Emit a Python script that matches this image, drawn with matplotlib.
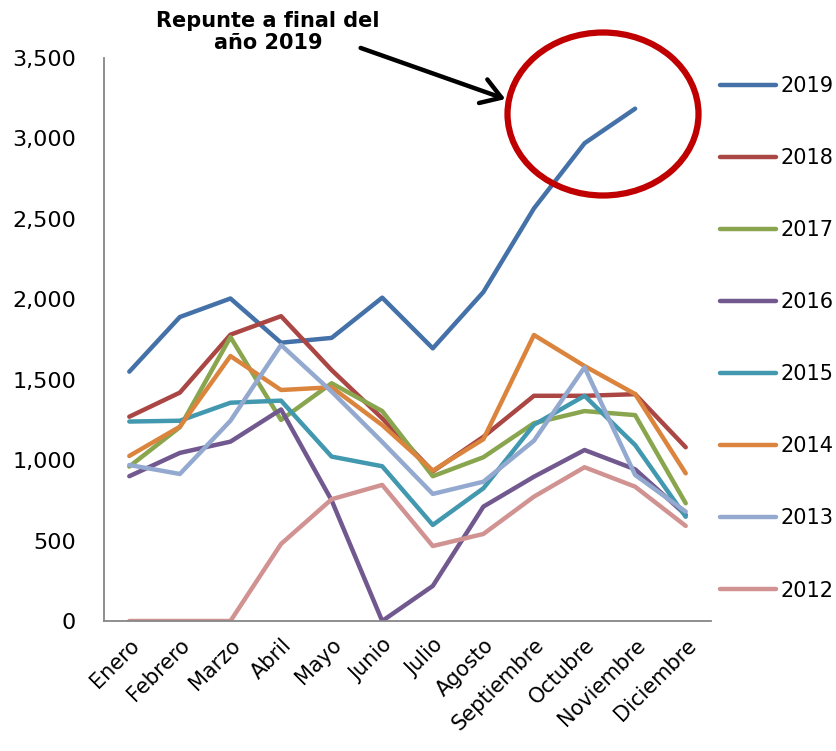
import matplotlib
matplotlib.use("Agg")
import matplotlib.pyplot as plt
from matplotlib.patches import Ellipse, FancyArrowPatch
from matplotlib.ticker import FuncFormatter

months = ["Enero", "Febrero", "Marzo", "Abril", "Mayo", "Junio", "Julio",
          "Agosto", "Septiembre", "Octubre", "Noviembre", "Diciembre"]

y2019 = [1550, 1890, 2005, 1730, 1760, 2010, 1695, 2045, 2565, 2970, 3185]
y2018 = [1270, 1420, 1780, 1895, 1560, 1260, 930, 1145, 1400, 1400, 1410, 1080]
y2017 = [960, 1205, 1765, 1250, 1478, 1305, 900, 1018, 1230, 1305, 1280, 732]
y2016 = [900, 1045, 1115, 1315, 750, 0, 218, 711, 897, 1063, 943, 660]
y2015 = [1240, 1245, 1357, 1370, 1022, 962, 597, 825, 1220, 1400, 1094, 648]
y2014 = [1026, 1208, 1647, 1436, 1453, 1218, 935, 1130, 1778, 1585, 1411, 918]
y2013 = [970, 914, 1245, 1716, 1426, 1113, 790, 866, 1121, 1577, 908, 680]
y2012 = [0, 0, 0, 479, 757, 846, 466, 541, 773, 956, 835, 591]

series = [("2019", y2019, "#4471A8"),
          ("2018", y2018, "#AA4643"),
          ("2017", y2017, "#89A54E"),
          ("2016", y2016, "#71588F"),
          ("2015", y2015, "#4198AF"),
          ("2014", y2014, "#DB843D"),
          ("2013", y2013, "#93A9CF"),
          ("2012", y2012, "#D19392")]

W, H = 836, 751
fig = plt.figure(figsize=(W / 100, H / 100), dpi=100)
ax = fig.add_axes([104 / W, 1 - 621 / H, (711 - 104) / W, (621 - 58) / H])

for name, vals, col in series:
    ax.plot(range(len(vals)), vals, color=col, lw=3.2, label=name,
            solid_joinstyle="round", solid_capstyle="round")

ax.set_xlim(-0.5, 11.5)
ax.set_ylim(0, 3500)
ax.set_yticks(range(0, 3501, 500))
ax.yaxis.set_major_formatter(FuncFormatter(lambda v, p: f"{int(v):,}"))
ax.set_xticks(range(12))
ax.set_xticklabels(months, rotation=45, ha="right", rotation_mode="anchor")
ax.tick_params(axis="y", length=0, pad=20, labelsize=16)
ax.tick_params(axis="x", length=0, pad=10, labelsize=15)
for s in ["top", "right"]:
    ax.spines[s].set_visible(False)
for s in ["left", "bottom"]:
    ax.spines[s].set_color("#868686")
    ax.spines[s].set_linewidth(1.3)

leg = ax.legend(loc="upper left", bbox_to_anchor=(720 / W, 1 - 76 / H),
                bbox_transform=fig.transFigure, frameon=False, fontsize=15,
                handlelength=2.7, labelspacing=2.5, handletextpad=0.2,
                borderpad=0, borderaxespad=0)
for line in leg.get_lines():
    line.set_linewidth(3.2)
    line.set_solid_capstyle("round")

def fx(x):
    return x / W

def fy(y):
    return 1 - y / H

fig.text(fx(268), fy(32), "Repunte a final del\naño 2019", ha="center",
         va="center", fontsize=15, fontweight="bold", linespacing=1.15)

ell = Ellipse((fx(603), fy(114)), 191 / W, 163 / H, transform=fig.transFigure,
              fill=False, edgecolor="#C00000", lw=4.5)
fig.add_artist(ell)

arr = FancyArrowPatch((fx(358), fy(47)), (fx(508), fy(100)),
                      transform=fig.transFigure,
                      arrowstyle="->,head_length=0.7,head_width=0.45",
                      color="black", lw=3.2, mutation_scale=20)
fig.add_artist(arr)

fig.savefig("out.png", dpi=100)
